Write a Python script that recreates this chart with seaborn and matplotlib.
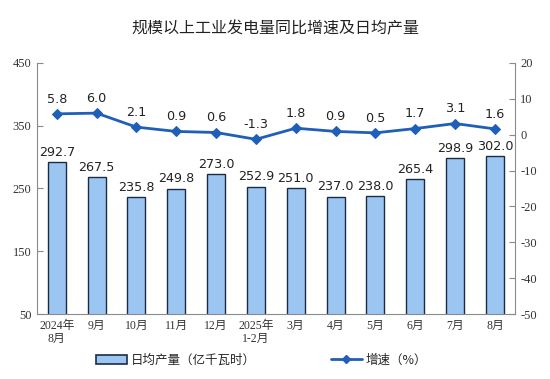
import numpy as np
import pandas as pd
import matplotlib
matplotlib.use("Agg")
import matplotlib.pyplot as plt
import seaborn as sns
from matplotlib.patches import Patch
from matplotlib.lines import Line2D

# ===== Data =====
months = ["2024年\n8月", "9月", "10月", "11月", "12月", "2025年\n1-2月",
          "3月", "4月", "5月", "6月", "7月", "8月"]
daily_output = [292.7, 267.5, 235.8, 249.8, 273.0, 252.9, 251.0, 237.0, 238.0, 265.4, 298.9, 302.0]
growth = [5.8, 6.0, 2.1, 0.9, 0.6, -1.3, 1.8, 0.9, 0.5, 1.7, 3.1, 1.6]
left_ticks = [50, 150, 250, 350, 450]
right_ticks = [-50, -40, -30, -20, -10, 0, 10, 20]

df = pd.DataFrame({"month": months, "output": daily_output, "growth": growth})
df["pos"] = np.arange(len(df))

sns.set_style("white")
plt.rcParams["font.family"] = ["Noto Sans CJK SC", "DejaVu Sans"]
plt.rcParams["axes.unicode_minus"] = False

bar_color = "#9cc6f2"
edge_color = "#1c2b45"
line_color = "#1f5fb8"
axis_color = "#8a8a8a"
serif = ["Liberation Serif", "Noto Sans CJK SC"]

fig = plt.figure(figsize=(5.5, 3.79), dpi=100)
ax = fig.add_axes([0.067, 0.1715, 0.869, 0.6625])

sns.barplot(data=df, x="month", y="output", ax=ax, color=bar_color,
            edgecolor=edge_color, linewidth=1.0, width=0.45, saturation=1)
ax.set_ylim(50, 450)
ax.set_yticks(left_ticks)
ax.set_xlim(-0.5, 11.5)
ax.set_xlabel("")
ax.set_ylabel("")
for i, v in enumerate(daily_output):
    ax.text(i, v + 5, f"{v:.1f}", ha="center", va="bottom", fontsize=9.2,
            family=["DejaVu Sans"], color="#222222")

ax2 = ax.twinx()
sns.lineplot(data=df, x="pos", y="growth", ax=ax2, color=line_color,
             linewidth=2.0, marker="D", markersize=5, markeredgecolor=line_color)
ax2.set_ylim(-50, 20)
ax2.set_yticks(right_ticks)
ax2.set_xlim(-0.5, 11.5)
ax2.set_xlabel("")
ax2.set_ylabel("")
for i, v in enumerate(growth):
    ax2.text(i, v + 2.3, f"{v:.1f}", ha="center", va="bottom", fontsize=9.2,
             family=["DejaVu Sans"], color="#222222")

# axes styling
for a in (ax, ax2):
    for s in a.spines.values():
        s.set_color(axis_color)
        s.set_linewidth(0.8)
    a.spines["top"].set_visible(False)
ax.spines["right"].set_visible(False)
ax2.spines["left"].set_visible(False)
ax2.spines["bottom"].set_visible(False)

ax.tick_params(axis="y", direction="in", length=4, color=axis_color, labelsize=9, pad=4)
ax2.tick_params(axis="y", direction="in", length=4, color=axis_color, labelsize=9, pad=4)
ax.set_xticks(np.arange(-0.5, 12, 1), minor=True)
ax.tick_params(axis="x", which="major", length=0, labelsize=8.5, pad=4)
ax.tick_params(axis="x", which="minor", direction="in", length=3, color=axis_color)
for lab in ax.get_yticklabels() + ax2.get_yticklabels():
    lab.set_family(serif)
    lab.set_color("#333333")
for lab in ax.get_xticklabels():
    lab.set_family(serif)
    lab.set_color("#333333")
    lab.set_linespacing(1.1)

fig.suptitle("规模以上工业发电量同比增速及日均产量", y=0.945, fontsize=11.5,
             color="#222222", fontweight="medium")

handles = [Patch(facecolor=bar_color, edgecolor=edge_color, linewidth=1.2),
           Line2D([0], [0], color=line_color, linewidth=2.0, marker="D", markersize=4)]
fig.legend(handles, ["日均产量（亿千瓦时）", "增速（%）"], loc="center",
           bbox_to_anchor=(0.475, 0.05), ncol=2, frameon=False, fontsize=9,
           handlelength=2.5, columnspacing=6, handletextpad=0.3)

fig.savefig("out.png", dpi=100)
